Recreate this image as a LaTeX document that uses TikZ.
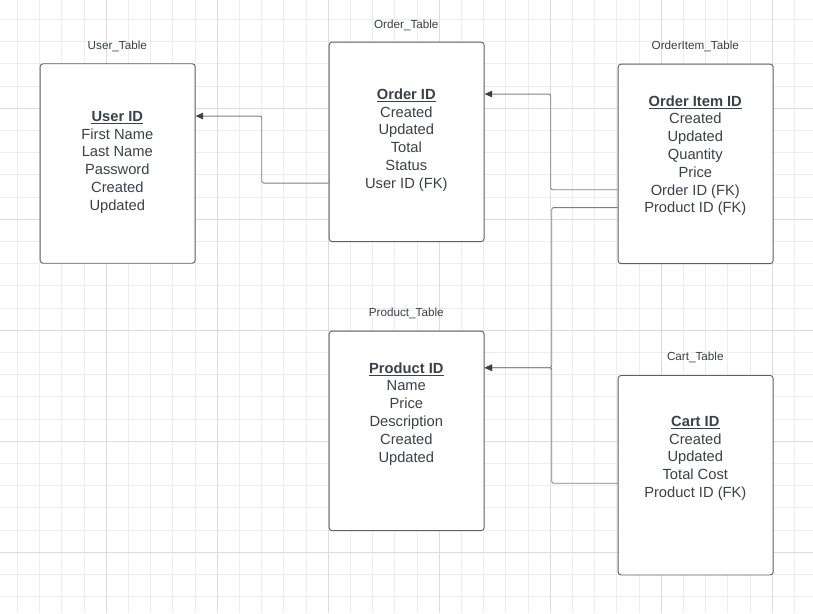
\documentclass[tikz,border=0pt]{standalone}
\usepackage{fontspec}
\setmainfont{Liberation Sans}
\usetikzlibrary{arrows.meta}

\definecolor{gridminor}{HTML}{EDEDED}
\definecolor{gridmajor}{HTML}{DCDCDC}
\definecolor{edge}{HTML}{5C5F63}
\definecolor{ink}{HTML}{3A414A}
\definecolor{wire}{HTML}{7C7F83}

\tikzset{
  minorline/.style={draw=gridminor, line width=1pt},
  majorline/.style={draw=gridmajor, line width=1pt},
  entity/.style={draw=edge, fill=white, line width=0.9pt, rounded corners=3pt,
    minimum width=155pt, minimum height=199.5pt, inner sep=0pt, anchor=north west},
  caption/.style={font=\fontsize{11.7}{14}\selectfont, text=ink!95!black, anchor=base, inner sep=0pt},
  rowtext/.style={font=\fontsize{14.7}{17.8}\selectfont, text=ink, anchor=base,
    inner sep=0pt, text height=10.5pt, text depth=0pt},
  keytext/.style={rowtext, font=\fontsize{14.7}{17.8}\selectfont\bfseries},
  keyrule/.style={draw=ink, line width=1.3pt},
  link/.style={draw=wire, line width=0.9pt, rounded corners=2pt,
    -{Triangle[length=7.5pt,width=6.5pt,color=ink]}},
  plainlink/.style={draw=wire, line width=0.9pt, rounded corners=2pt},
}

% key row (bold, underlined) followed by the plain attribute rows
\newcommand\tablerows[5]{%
  \node[keytext] (#1-0) at (#2,#3) {#4};
  \draw[keyrule] ([yshift=-2.3pt]#1-0.base west) -- ([yshift=-2.3pt]#1-0.base east);
  \foreach \t [count=\i] in {#5} {
    \node[rowtext] (#1-\i) at (#2,{#3+17.8*\i}) {\t};
  }
}

\begin{document}
\begin{tikzpicture}[x=1pt,y=-1pt]
  \useasboundingbox (0,0) rectangle (813,613);

  % background grid
  \foreach \k in {-4,...,31}
    \draw[minorline] ({106.3+22.2*\k},0) -- ({106.3+22.2*\k},613);
  \foreach \k in {-4,...,22}
    \draw[minorline] (0,{108.3+22.2*\k}) -- (813,{108.3+22.2*\k});
  \foreach \k in {0,...,6}
    \draw[majorline] ({106.3+111*\k},0) -- ({106.3+111*\k},613);
  \foreach \k in {0,...,4}
    \draw[majorline] (0,{108.3+111*\k}) -- (813,{108.3+111*\k});

  % entity boxes
  \node[entity] (user)    at (39.7,63.3)  {};
  \node[entity] (order)   at (328.7,41.7) {};
  \node[entity] (item)    at (617.7,63.7) {};
  \node[entity] (product) at (328.7,330.7) {};
  \node[entity] (cart)    at (617.7,375)  {};

  % table captions
  \node[caption] (user-cap)    at (117.3,49.9)  {User\_Table};
  \node[caption] (order-cap)   at (406.3,28.2)  {Order\_Table};
  \node[caption] (item-cap)    at (695.3,49.9)  {OrderItem\_Table};
  \node[caption] (product-cap) at (406.3,316.9) {Product\_Table};
  \node[caption] (cart-cap)    at (695.3,360.9) {Cart\_Table};

  % attributes
  \tablerows{u}{117.3}{121.3}{User ID}{First Name,Last Name,Password,Created,Updated}
  \tablerows{o}{406.3}{99.3}{Order ID}{Created,Updated,Total,Status,User ID (FK)}
  \tablerows{i}{695.3}{106}{Order Item ID}{Created,Updated,Quantity,Price,Order ID (FK),Product ID (FK)}
  \tablerows{p}{406.3}{373}{Product ID}{Name,Price,Description,Created,Updated}
  \tablerows{c}{695.3}{426.3}{Cart ID}{Created,Updated,Total Cost,Product ID (FK)}

  \coordinate (cartlink) at ([yshift=9pt]c-4.center);

  % relationships
  \draw[link] (order.west |- o-5.center) -- ++(-67,0) |- (user.east |- u-0.center);
  \draw[link] (item.west |- i-5.center) -- ++(-67,0) |- (order.east |- o-0.center);
  \draw[link] (item.west |- i-6.center) -- ++(-66,0) |- (product.east |- p-0.center);
  \draw[link] (cart.west |- cartlink) -- ++(-66,0) |- (product.east |- p-0.center);
\end{tikzpicture}
\end{document}
